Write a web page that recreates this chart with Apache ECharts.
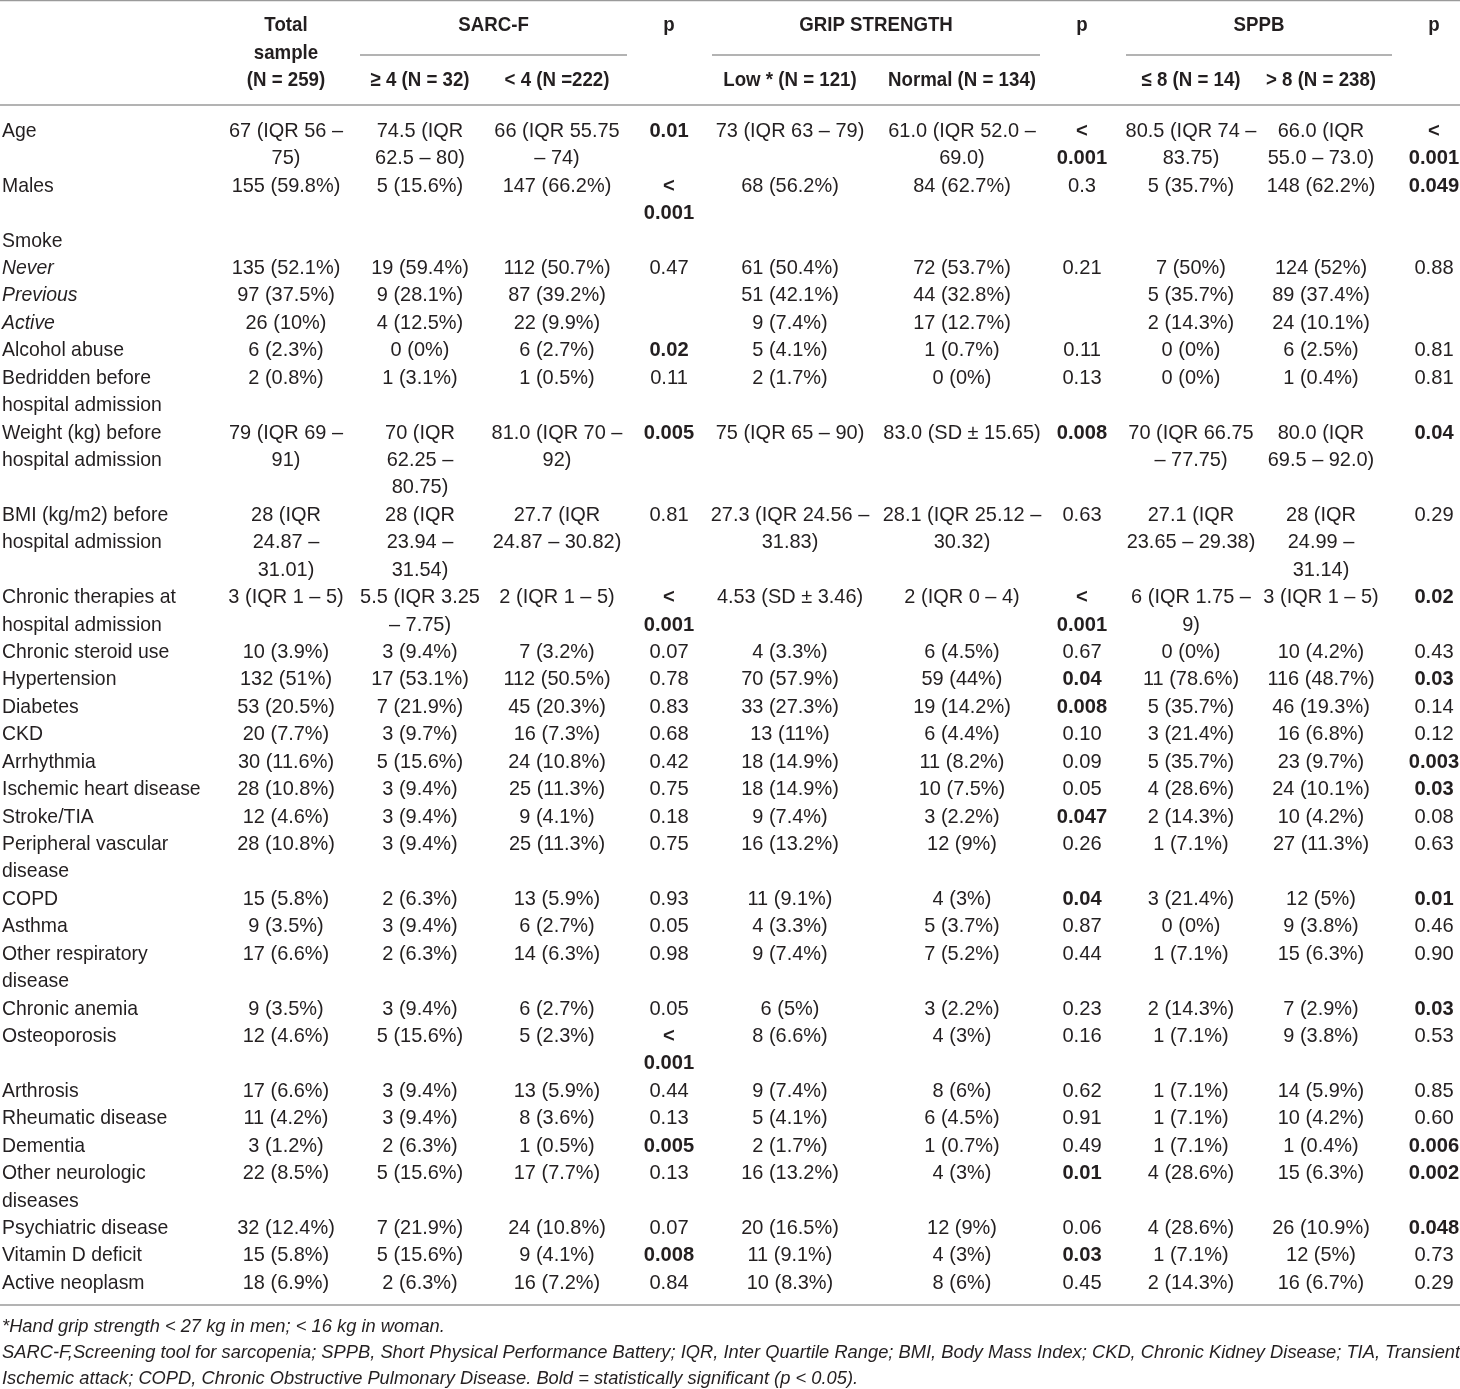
<!DOCTYPE html>
<html>
<head>
<meta charset="utf-8">
<script src="https://cdn.jsdelivr.net/npm/echarts@6/dist/echarts.min.js"></script>
<style>
  html, body { margin: 0; padding: 0; background: #fff; }
  #table { width: 1460px; height: 1389px; }
</style>
</head>
<body>
<div id="table"></div>
<script>
// ---- table data ----
const rowLabels = [
    'Age', 'Males', 'Smoke', 'Never', 'Previous', 'Active', 'Alcohol abuse',
    'Bedridden before\nhospital admission', 'Weight (kg) before\nhospital admission',
    'BMI (kg/m2) before\nhospital admission', 'Chronic therapies at\nhospital admission',
    'Chronic steroid use', 'Hypertension', 'Diabetes', 'CKD', 'Arrhythmia',
    'Ischemic heart disease', 'Stroke/TIA', 'Peripheral vascular\ndisease', 'COPD',
    'Asthma', 'Other respiratory\ndisease', 'Chronic anemia', 'Osteoporosis',
    'Arthrosis', 'Rheumatic disease', 'Dementia', 'Other neurologic\ndiseases',
    'Psychiatric disease', 'Vitamin D deficit', 'Active neoplasm',
];
const subRows = ['Never', 'Previous', 'Active'];

const totalSample = [
    '67 (IQR 56 –\n75)', '155 (59.8%)', '', '135 (52.1%)', '97 (37.5%)', '26 (10%)', '6 (2.3%)',
    '2 (0.8%)', '79 (IQR 69 –\n91)', '28 (IQR\n24.87 –\n31.01)', '3 (IQR 1 – 5)',
    '10 (3.9%)', '132 (51%)', '53 (20.5%)', '20 (7.7%)', '30 (11.6%)', '28 (10.8%)',
    '12 (4.6%)', '28 (10.8%)', '15 (5.8%)', '9 (3.5%)', '17 (6.6%)', '9 (3.5%)',
    '12 (4.6%)', '17 (6.6%)', '11 (4.2%)', '3 (1.2%)', '22 (8.5%)', '32 (12.4%)',
    '15 (5.8%)', '18 (6.9%)',
];
const sarcHigh = [
    '74.5 (IQR\n62.5 – 80)', '5 (15.6%)', '', '19 (59.4%)', '9 (28.1%)', '4 (12.5%)', '0 (0%)',
    '1 (3.1%)', '70 (IQR\n62.25 –\n80.75)', '28 (IQR\n23.94 –\n31.54)', '5.5 (IQR 3.25\n– 7.75)',
    '3 (9.4%)', '17 (53.1%)', '7 (21.9%)', '3 (9.7%)', '5 (15.6%)', '3 (9.4%)',
    '3 (9.4%)', '3 (9.4%)', '2 (6.3%)', '3 (9.4%)', '2 (6.3%)', '3 (9.4%)',
    '5 (15.6%)', '3 (9.4%)', '3 (9.4%)', '2 (6.3%)', '5 (15.6%)', '7 (21.9%)',
    '5 (15.6%)', '2 (6.3%)',
];
const sarcLow = [
    '66 (IQR 55.75\n– 74)', '147 (66.2%)', '', '112 (50.7%)', '87 (39.2%)', '22 (9.9%)', '6 (2.7%)',
    '1 (0.5%)', '81.0 (IQR 70 –\n92)', '27.7 (IQR\n24.87 – 30.82)', '2 (IQR 1 – 5)',
    '7 (3.2%)', '112 (50.5%)', '45 (20.3%)', '16 (7.3%)', '24 (10.8%)', '25 (11.3%)',
    '9 (4.1%)', '25 (11.3%)', '13 (5.9%)', '6 (2.7%)', '14 (6.3%)', '6 (2.7%)',
    '5 (2.3%)', '13 (5.9%)', '8 (3.6%)', '1 (0.5%)', '17 (7.7%)', '24 (10.8%)',
    '9 (4.1%)', '16 (7.2%)',
];
const sarcP = [
    '0.01', '<\n0.001', '', '0.47', '', '', '0.02',
    '0.11', '0.005', '0.81', '<\n0.001',
    '0.07', '0.78', '0.83', '0.68', '0.42', '0.75',
    '0.18', '0.75', '0.93', '0.05', '0.98', '0.05',
    '<\n0.001', '0.44', '0.13', '0.005', '0.13', '0.07',
    '0.008', '0.84',
];
const gripLow = [
    '73 (IQR 63 – 79)', '68 (56.2%)', '', '61 (50.4%)', '51 (42.1%)', '9 (7.4%)', '5 (4.1%)',
    '2 (1.7%)', '75 (IQR 65 – 90)', '27.3 (IQR 24.56 –\n31.83)', '4.53 (SD ± 3.46)',
    '4 (3.3%)', '70 (57.9%)', '33 (27.3%)', '13 (11%)', '18 (14.9%)', '18 (14.9%)',
    '9 (7.4%)', '16 (13.2%)', '11 (9.1%)', '4 (3.3%)', '9 (7.4%)', '6 (5%)',
    '8 (6.6%)', '9 (7.4%)', '5 (4.1%)', '2 (1.7%)', '16 (13.2%)', '20 (16.5%)',
    '11 (9.1%)', '10 (8.3%)',
];
const gripNormal = [
    '61.0 (IQR 52.0 –\n69.0)', '84 (62.7%)', '', '72 (53.7%)', '44 (32.8%)', '17 (12.7%)', '1 (0.7%)',
    '0 (0%)', '83.0 (SD ± 15.65)', '28.1 (IQR 25.12 –\n30.32)', '2 (IQR 0 – 4)',
    '6 (4.5%)', '59 (44%)', '19 (14.2%)', '6 (4.4%)', '11 (8.2%)', '10 (7.5%)',
    '3 (2.2%)', '12 (9%)', '4 (3%)', '5 (3.7%)', '7 (5.2%)', '3 (2.2%)',
    '4 (3%)', '8 (6%)', '6 (4.5%)', '1 (0.7%)', '4 (3%)', '12 (9%)',
    '4 (3%)', '8 (6%)',
];
const gripP = [
    '<\n0.001', '0.3', '', '0.21', '', '', '0.11',
    '0.13', '0.008', '0.63', '<\n0.001',
    '0.67', '0.04', '0.008', '0.10', '0.09', '0.05',
    '0.047', '0.26', '0.04', '0.87', '0.44', '0.23',
    '0.16', '0.62', '0.91', '0.49', '0.01', '0.06',
    '0.03', '0.45',
];
const sppbLow = [
    '80.5 (IQR 74 –\n83.75)', '5 (35.7%)', '', '7 (50%)', '5 (35.7%)', '2 (14.3%)', '0 (0%)',
    '0 (0%)', '70 (IQR 66.75\n– 77.75)', '27.1 (IQR\n23.65 – 29.38)', '6 (IQR 1.75 –\n9)',
    '0 (0%)', '11 (78.6%)', '5 (35.7%)', '3 (21.4%)', '5 (35.7%)', '4 (28.6%)',
    '2 (14.3%)', '1 (7.1%)', '3 (21.4%)', '0 (0%)', '1 (7.1%)', '2 (14.3%)',
    '1 (7.1%)', '1 (7.1%)', '1 (7.1%)', '1 (7.1%)', '4 (28.6%)', '4 (28.6%)',
    '1 (7.1%)', '2 (14.3%)',
];
const sppbHigh = [
    '66.0 (IQR\n55.0 – 73.0)', '148 (62.2%)', '', '124 (52%)', '89 (37.4%)', '24 (10.1%)', '6 (2.5%)',
    '1 (0.4%)', '80.0 (IQR\n69.5 – 92.0)', '28 (IQR\n24.99 –\n31.14)', '3 (IQR 1 – 5)',
    '10 (4.2%)', '116 (48.7%)', '46 (19.3%)', '16 (6.8%)', '23 (9.7%)', '24 (10.1%)',
    '10 (4.2%)', '27 (11.3%)', '12 (5%)', '9 (3.8%)', '15 (6.3%)', '7 (2.9%)',
    '9 (3.8%)', '14 (5.9%)', '10 (4.2%)', '1 (0.4%)', '15 (6.3%)', '26 (10.9%)',
    '12 (5%)', '16 (6.7%)',
];
const sppbP = [
    '<\n0.001', '0.049', '', '0.88', '', '', '0.81',
    '0.81', '0.04', '0.29', '0.02',
    '0.43', '0.03', '0.14', '0.12', '0.003', '0.03',
    '0.08', '0.63', '0.01', '0.46', '0.90', '0.03',
    '0.53', '0.85', '0.60', '0.006', '0.002', '0.048',
    '0.73', '0.29',
];

const groupHeaders = ['SARC-F', 'GRIP STRENGTH', 'SPPB'];
const columnHeaders = [
    '', 'Total\nsample\n(N = 259)', '≥ 4 (N = 32)', '< 4 (N =222)', 'p',
    'Low * (N = 121)', 'Normal (N = 134)', 'p', '≤ 8 (N = 14)', '> 8 (N = 238)', 'p',
];
const footnotes = [
    '*Hand grip strength < 27 kg in men; < 16 kg in woman.',
    'SARC-F,Screening tool for sarcopenia; SPPB, Short Physical Performance Battery; IQR, Inter Quartile Range; BMI, Body Mass Index; CKD, Chronic Kidney Disease; TIA, Transient',
    'Ischemic attack; COPD, Chronic Obstructive Pulmonary Disease. Bold = statistically significant (p < 0.05).',
];
const alpha = 0.05;

// ---- layout ----
const columns = [rowLabels, totalSample, sarcHigh, sarcLow, sarcP, gripLow, gripNormal, gripP, sppbLow, sppbHigh, sppbP];
const pColumns = [4, 7, 10];
const colX = [2, 286, 420, 557, 669, 790, 962, 1082, 1191, 1321, 1434];
const groupSpans = [[360, 627], [712, 1040], [1126, 1392]];
const FONT = '"Liberation Sans", Arial, sans-serif';
const FS = 21;
const TEXT = '#231f20';
// the original face is a condensed grotesque: squeeze the text horizontally
const SQUEEZE = { label: 0.925, value: 0.95, p: 0.96, header: 0.89, note: 0.964 };

function isSignificant(p) {
    if (p.indexOf('<') === 0) return true;
    const v = parseFloat(p);
    return !isNaN(v) && v < alpha;
}

// line index where every row starts
const rowStart = [];
let line = 0;
rowLabels.forEach((lab, r) => {
    rowStart.push(line);
    let n = 1;
    columns.forEach((col) => { n = Math.max(n, col[r].split('\n').length); });
    line += n;
});
const bodyLines = line;

const cells = [];
columns.forEach((col, c) => {
    const kind = c === 0 ? 'label' : (pColumns.includes(c) ? 'p' : 'value');
    col.forEach((txt, r) => {
        if (!txt) return;
        txt.split('\n').forEach((s, j) => {
            cells.push({
                x: colX[c], y: rowStart[r] + j, text: s,
                align: c === 0 ? 'left' : 'center',
                bold: kind === 'p' && isSignificant(col[r]),
                italic: c === 0 && subRows.includes(txt),
                size: FS, sx: SQUEEZE[kind],
            });
        });
    });
});
// header texts
columnHeaders.forEach((h, c) => {
    if (!h) return;
    const parts = h.split('\n');
    parts.forEach((s, j) => {
        const y = parts.length > 1 ? -3.85 + j : (h === 'p' ? -3.85 : -1.85);
        cells.push({ x: colX[c], y: y, text: s, align: 'center', bold: true, italic: false, size: FS, sx: SQUEEZE.header });
    });
});
groupHeaders.forEach((g, i) => {
    cells.push({ x: (groupSpans[i][0] + groupSpans[i][1]) / 2, y: -3.85, text: g, align: 'center', bold: true, italic: false, size: FS, sx: SQUEEZE.header });
});
footnotes.forEach((f, i) => {
    cells.push({ x: 2, y: bodyLines + 0.6 + i * 0.95, text: f, align: 'left', bold: false, italic: true, size: 19, sx: SQUEEZE.note });
});

const rules = [
    { x1: 0, x2: 1460, y: -4.76 },
    { x1: 0, x2: 1460, y: -0.95 },
    { x1: 0, x2: 1460, y: bodyLines - 0.2 },
];
groupSpans.forEach((s) => rules.push({ x1: s[0], x2: s[1], y: -2.77 }));

const chart = echarts.init(document.getElementById('table'), null, { renderer: 'canvas' });

chart.setOption({
    backgroundColor: '#fff',
    animation: false,
    grid: { left: 0, right: 0, top: 0, bottom: 0 },
    xAxis: { type: 'value', min: 0, max: 1460, show: false },
    yAxis: { type: 'value', min: -4.776, max: 45.86, inverse: true, show: false },
    series: [
        {
            type: 'custom',
            silent: true,
            data: rules.map((r) => [r.x1, r.y, r.x2]),
            renderItem: function (params, api) {
                const a = api.coord([api.value(0), api.value(1)]);
                const b = api.coord([api.value(2), api.value(1)]);
                return {
                    type: 'line',
                    shape: { x1: a[0], y1: a[1], x2: b[0], y2: b[1] },
                    style: { stroke: '#9a9a9a', lineWidth: 1.5 },
                };
            },
        },
        {
            type: 'custom',
            silent: true,
            data: cells.map((c) => [c.x, c.y]),
            renderItem: function (params, api) {
                const cell = cells[params.dataIndex];
                const p = api.coord([api.value(0), api.value(1)]);
                return {
                    type: 'text',
                    x: p[0],
                    y: p[1],
                    scaleX: cell.sx,
                    style: {
                        text: cell.text,
                        fill: TEXT,
                        align: cell.align,
                        verticalAlign: 'middle',
                        font: (cell.italic ? 'italic ' : '') + (cell.bold ? 'bold ' : '') + cell.size + 'px ' + FONT,
                    },
                };
            },
        },
    ],
});
</script>
</body>
</html>
